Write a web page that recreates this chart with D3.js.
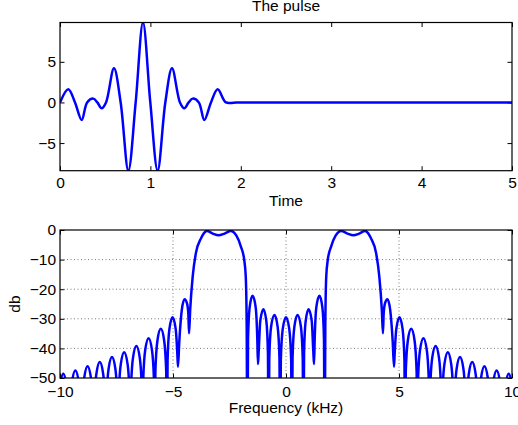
<!DOCTYPE html>
<html>
<head>
<meta charset="utf-8">
<script src="https://cdn.jsdelivr.net/npm/d3@7"></script>
<style>
  body { margin: 0; background: #fff; }
  svg { display: block; }
  text { font-family: "Liberation Sans", Arial, Helvetica, sans-serif; fill: #000; }
</style>
</head>
<body>
<svg id="fig" width="518" height="425"></svg>
<script>
// ---- pulse (time domain) ----
const pulseTime  = [0, 0.092, 0.166, 0.24, 0.30, 0.368, 0.413, 0.461, 0.509, 0.597, 0.671, 0.756, 0.837,
                    0.918, 0.999, 1.080, 1.165, 1.239, 1.327, 1.375, 1.423, 1.468, 1.536, 1.596, 1.67,
                    1.744, 1.836, 1.95, 5.0];
const pulseValue = [0, 1.62, 0, -2.15, 0, 0.47, 0, -0.72, 0, 4.2, 0, -8.4, 0,
                    9.84, 0, -8.4, 0, 4.2, 0, -0.72, 0, 0.47, 0, -2.15, 0,
                    1.62, 0, 0, 0];
const timeTicks  = [0, 1, 2, 3, 4, 5];
const pulseTicks = [-5, 0, 5];
const pulseRange = [-8.4, 9.84];

// ---- magnitude spectrum (dB), nulls sit below the visible floor ----
const specFreq = [
  -10.0, -9.86, -9.71, -9.62, -9.59, -9.56, -9.47, -9.32, -9.17, -9.08, -9.05,
  -9.02, -8.93, -8.78, -8.63, -8.54, -8.51, -8.48, -8.39, -8.24, -8.09, -8.00, -7.97,
  -7.94, -7.85, -7.70, -7.55, -7.46, -7.43, -7.40, -7.31, -7.16, -7.01, -6.92, -6.89,
  -6.86, -6.77, -6.62, -6.47, -6.38, -6.35, -6.32, -6.23, -6.08, -5.93, -5.84, -5.81,
  -5.78, -5.69, -5.54, -5.39, -5.30, -5.27, -5.24, -5.16, -5.02, -4.88, -4.81, -4.78,
  -4.72, -4.61, -4.49, -4.38, -4.32, -4.29,
  -4.24, -4.13, -3.99, -3.76, -3.5, -3.24, -2.98, -2.72, -2.44, -2.2, -2.0, -1.85, -1.78, -1.74, -1.71,
  -1.68, -1.61, -1.48, -1.34, -1.27, -1.24, -1.21, -1.14, -1.0, -0.87, -0.80, -0.77,
  -0.74, -0.66, -0.51, -0.37, -0.29, -0.26, -0.229, -0.145,
  0,
  0.145, 0.229, 0.26, 0.29, 0.37, 0.51, 0.66, 0.74,
  0.77, 0.80, 0.87, 1.0, 1.14, 1.21, 1.24, 1.27, 1.34, 1.48, 1.61, 1.68,
  1.71, 1.74, 1.78, 1.85, 2.0, 2.2, 2.44, 2.72, 2.98, 3.24, 3.5, 3.76, 3.99, 4.13, 4.24,
  4.29, 4.32, 4.38, 4.49, 4.61, 4.72,
  4.78, 4.81, 4.88, 5.02, 5.16, 5.24, 5.27, 5.30, 5.39, 5.54, 5.69, 5.78,
  5.81, 5.84, 5.93, 6.08, 6.23, 6.32, 6.35, 6.38, 6.47, 6.62, 6.77, 6.86,
  6.89, 6.92, 7.01, 7.16, 7.31, 7.40, 7.43, 7.46, 7.55, 7.70, 7.85, 7.94,
  7.97, 8.00, 8.09, 8.24, 8.39, 8.48, 8.51, 8.54, 8.63, 8.78, 8.93, 9.02,
  9.05, 9.08, 9.17, 9.32, 9.47, 9.56, 9.59, 9.62, 9.71, 9.86, 10.0
];
const specDb = [
  -52.4, -48.6, -52.6, -63, -80, -62, -51.5, -47.5, -51.5, -62, -80,
  -60.5, -50, -46, -50, -60.5, -80, -59.1, -48.6, -44.6, -48.6, -59.1, -80,
  -57.4, -46.9, -42.9, -46.9, -57.4, -80, -55.8, -45.3, -41.3, -45.3, -55.8, -80,
  -53.7, -43.2, -39.2, -43.2, -53.7, -80, -51.1, -40.6, -36.6, -40.6, -51.1, -80,
  -47.9, -37.4, -33.4, -37.4, -47.9, -80, -44, -33.5, -29.5, -33.5, -41.5, -46.2,
  -37.5, -27, -23.4, -24.8, -28.5, -34.9,
  -27, -15.8, -7.9, -2.8, -0.3, -1.2, -1.8, -1.2, -0.3, -1.8, -5.5, -10, -15.8, -32, -80,
  -36.7, -26.2, -22.2, -26.2, -36.7, -45.3, -41.3, -30.8, -26.8, -30.8, -41.3, -80,
  -43.2, -32.7, -28.7, -32.7, -43.2, -80, -44, -33.5,
  -29.5,
  -33.5, -44, -80, -43.2, -32.7, -28.7, -32.7, -43.2,
  -80, -41.3, -30.8, -26.8, -30.8, -41.3, -45.3, -36.7, -26.2, -22.2, -26.2, -36.7,
  -80, -32, -15.8, -10, -5.5, -1.8, -0.3, -1.2, -1.8, -1.2, -0.3, -2.8, -7.9, -15.8, -27,
  -34.9, -28.5, -24.8, -23.4, -27, -37.5,
  -46.2, -41.5, -33.5, -29.5, -33.5, -44, -80, -47.9, -37.4, -33.4, -37.4, -47.9,
  -80, -51.1, -40.6, -36.6, -40.6, -51.1, -80, -53.7, -43.2, -39.2, -43.2, -53.7,
  -80, -55.8, -45.3, -41.3, -45.3, -55.8, -80, -57.4, -46.9, -42.9, -46.9, -57.4,
  -80, -59.1, -48.6, -44.6, -48.6, -59.1, -80, -60.5, -50, -46, -50, -60.5,
  -80, -62, -51.5, -47.5, -51.5, -62, -80, -63, -52.6, -48.6, -52.4
];
const freqTicks = [-10, -5, 0, 5, 10];
const dbTicks   = [-50, -40, -30, -20, -10, 0];
const freqGrid  = [-5, 0, 5];
const dbGrid    = [-40, -30, -20, -10];

const FONT = 15.5;
const TICK = 4.5;
const BLUE = "#0000ff";

const svg = d3.select("#fig");

function drawAxes(cfg) {
  const { x0, x1, y0, y1, xDomain, yDomain, xTicks, yTicks, id } = cfg;
  const x = d3.scaleLinear().domain(xDomain).range([x0, x1]);
  const y = d3.scaleLinear().domain(yDomain).range([y1, y0]);
  const g = svg.append("g");

  g.append("clipPath").attr("id", id)
    .append("rect").attr("x", x0).attr("y", y0).attr("width", x1 - x0).attr("height", y1 - y0);

  const fmt = d => d < 0 ? "\u2212" + Math.abs(d) : String(d);

  // labelled axes with inward ticks
  const ax = g.append("g").attr("transform", `translate(0,${y1})`)
    .call(d3.axisBottom(x).tickValues(xTicks).tickFormat(fmt).tickSizeInner(-TICK).tickSizeOuter(0).tickPadding(cfg.xPad));
  const ay = g.append("g").attr("transform", `translate(${x0},0)`)
    .call(d3.axisLeft(y).tickValues(yTicks).tickFormat(fmt).tickSizeInner(-TICK).tickSizeOuter(0).tickPadding(cfg.yPad));
  // mirrored ticks on the opposite sides
  const at = g.append("g").attr("transform", `translate(0,${y0})`)
    .call(d3.axisTop(x).tickValues(xTicks).tickFormat("").tickSizeInner(-TICK).tickSizeOuter(0));
  const ar = g.append("g").attr("transform", `translate(${x1},0)`)
    .call(d3.axisRight(y).tickValues(yTicks).tickFormat("").tickSizeInner(-TICK).tickSizeOuter(0));

  [ax, ay, at, ar].forEach(a => {
    a.select(".domain").remove();
    a.selectAll("line").attr("stroke", "#000").attr("stroke-width", 1);
    a.selectAll("text").attr("font-size", FONT).attr("font-family", "Liberation Sans, Arial, sans-serif").attr("fill", "#000");
  });

  return { x, y, g };
}

// ---------- upper panel: the pulse ----------
const pulsePanel = drawAxes({
  id: "clipPulse", x0: 60, x1: 512, y0: 22.5, y1: 170.7,
  xDomain: [0, 5], yDomain: pulseRange, xTicks: timeTicks, yTicks: pulseTicks, xPad: 6.5, yPad: 4
});
const pulsePts = pulseTime.map((t, i) => [t, pulseValue[i]]);
pulsePanel.g.append("path")
  .attr("clip-path", "url(#clipPulse)")
  .attr("d", d3.line().x(d => pulsePanel.x(d[0])).y(d => pulsePanel.y(d[1])).curve(d3.curveCatmullRom.alpha(0.5))(pulsePts))
  .attr("fill", "none").attr("stroke", BLUE).attr("stroke-width", 2.5).attr("stroke-linejoin", "round");
pulsePanel.g.append("rect").attr("x", 60).attr("y", 22.5).attr("width", 452).attr("height", 148.2)
  .attr("fill", "none").attr("stroke", "#000").attr("stroke-width", 1.2);

svg.append("text").attr("x", 286).attr("y", 10.5).attr("text-anchor", "middle")
  .attr("font-size", FONT).text("The pulse");
svg.append("text").attr("x", 286).attr("y", 206).attr("text-anchor", "middle")
  .attr("font-size", FONT).text("Time");

// ---------- lower panel: spectrum in dB ----------
const specPanel = drawAxes({
  id: "clipSpec", x0: 60, x1: 512, y0: 230, y1: 378,
  xDomain: [-10, 10], yDomain: [-50, 0], xTicks: freqTicks, yTicks: dbTicks, xPad: 8, yPad: 4
});
const grid = specPanel.g.append("g").attr("stroke", "#7a7a7a").attr("stroke-width", 1).attr("stroke-dasharray", "1,2.5");
grid.selectAll("line.gx").data(freqGrid).join("line")
  .attr("x1", d => specPanel.x(d)).attr("x2", d => specPanel.x(d)).attr("y1", 230).attr("y2", 378);
grid.selectAll("line.gy").data(dbGrid).join("line")
  .attr("x1", 60).attr("x2", 512).attr("y1", d => specPanel.y(d)).attr("y2", d => specPanel.y(d));

const specPts = specFreq.map((f, i) => [f, specDb[i]]);
specPanel.g.append("path")
  .attr("clip-path", "url(#clipSpec)")
  .attr("d", d3.line().x(d => specPanel.x(d[0])).y(d => specPanel.y(d[1])).curve(d3.curveMonotoneX)(specPts))
  .attr("fill", "none").attr("stroke", BLUE).attr("stroke-width", 2.5).attr("stroke-linejoin", "round");
specPanel.g.append("rect").attr("x", 60).attr("y", 230).attr("width", 452).attr("height", 148)
  .attr("fill", "none").attr("stroke", "#000").attr("stroke-width", 1.2);

svg.append("text").attr("x", 286).attr("y", 413).attr("text-anchor", "middle")
  .attr("font-size", FONT).text("Frequency (kHz)");
svg.append("text").attr("transform", "translate(20,304) rotate(-90)").attr("text-anchor", "middle")
  .attr("font-size", FONT).text("db");
</script>
</body>
</html>
